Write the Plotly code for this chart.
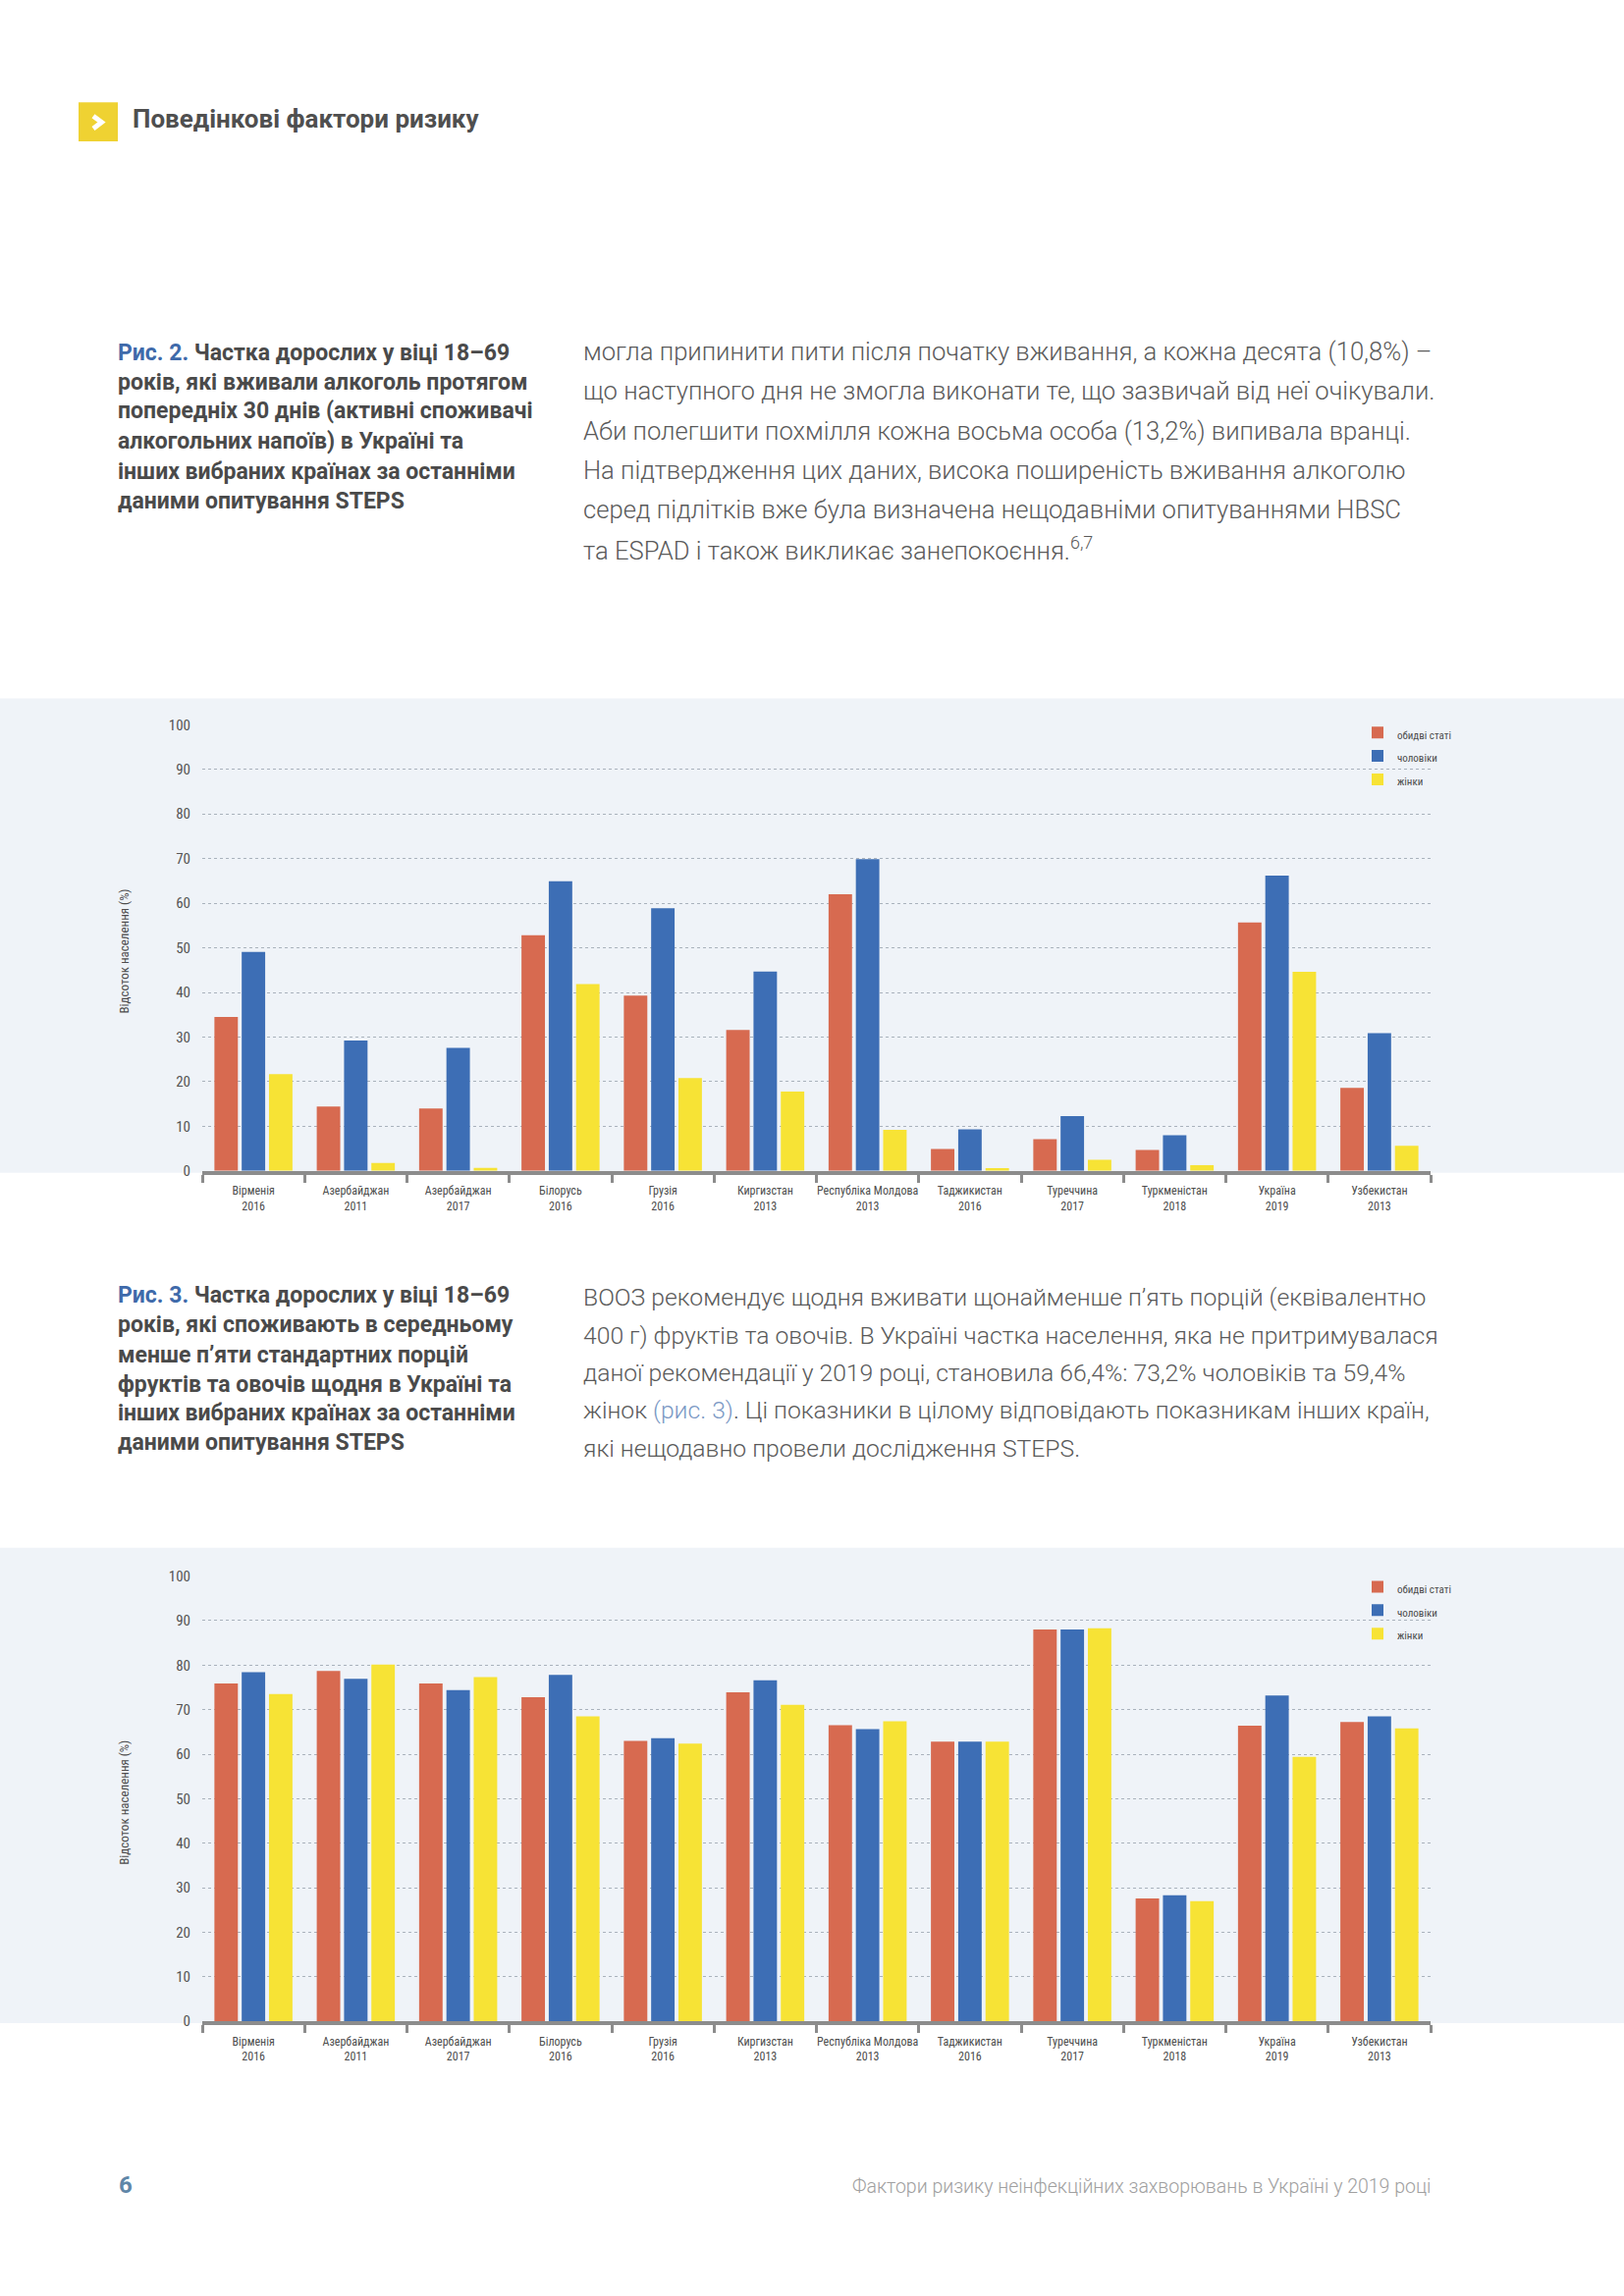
import plotly.graph_objects as go

W, H = 1654, 2339

# ---------------- data ----------------
countries = ["Вірменія", "Азербайджан", "Азербайджан", "Білорусь", "Грузія", "Киргизстан",
             "Республіка Молдова", "Таджикистан", "Туреччина", "Туркменістан", "Україна", "Узбекистан"]
years = ["2016", "2011", "2017", "2016", "2016", "2013", "2013", "2016", "2017", "2018", "2019", "2013"]
categories = [f"{c}<br>{y}" for c, y in zip(countries, years)]

series_names = ["обидві статі", "чоловіки", "жінки"]

# Fig. 2: current alcohol drinkers (%)
alc_both = [34.5, 14.4, 14.0, 52.8, 39.3, 31.6, 62.0, 4.9, 7.1, 4.7, 55.7, 18.6]
alc_men = [49.1, 29.2, 27.6, 64.9, 58.9, 44.7, 69.9, 9.3, 12.3, 8.0, 66.2, 30.9]
alc_women = [21.7, 1.8, 0.7, 41.9, 20.8, 17.8, 9.2, 0.6, 2.5, 1.3, 44.6, 5.6]

# Fig. 3: fewer than 5 servings of fruit & vegetables (%)
fv_both = [75.9, 78.7, 75.9, 72.8, 63.0, 73.9, 66.5, 62.8, 88.0, 27.6, 66.4, 67.2]
fv_men = [78.4, 76.9, 74.4, 77.8, 63.6, 76.6, 65.6, 62.8, 88.0, 28.3, 73.2, 68.5]
fv_women = [73.5, 80.1, 77.3, 68.5, 62.4, 71.1, 67.4, 62.8, 88.3, 27.0, 59.4, 65.8]

y_ticks = list(range(0, 101, 10))
y_title = "Відсоток населення (%)"

colors = ["#D76A50", "#3D6EB5", "#F7E335"]

# ---------------- helpers (page pixels -> paper fractions) ----------------
def px(x):
    return x / W

def py(y):
    return 1 - y / H

NARROW = "Liberation Sans Narrow, Roboto Condensed, DejaVu Sans Condensed, Arial Narrow, Roboto, sans-serif"
BODY = "Roboto, Open Sans, sans-serif"

fig = go.Figure()

for i, (name, vals) in enumerate(zip(series_names, [alc_both, alc_men, alc_women])):
    fig.add_trace(go.Bar(x=categories, y=vals, name=f"<span style='font-size:11px'>{name}</span>",
                         marker=dict(color=colors[i], line=dict(width=0)),
                         xaxis="x", yaxis="y", legend="legend"))
for i, (name, vals) in enumerate(zip(series_names, [fv_both, fv_men, fv_women])):
    fig.add_trace(go.Bar(x=categories, y=vals, name=f"<span style='font-size:11px'>{name}</span>",
                         marker=dict(color=colors[i], line=dict(width=0)),
                         xaxis="x2", yaxis="y2", legend="legend2"))

xdom = [px(206), px(1457)]
ax_common_x = dict(type="category", showline=True, linecolor="#8C8C8C", linewidth=4,
                   ticks="outside", tickson="boundaries", ticklen=8, tickwidth=3,
                   tickcolor="#8C8C8C", showgrid=False, tickangle=0, ticklabelstandoff=6,
                   tickfont=dict(family=NARROW, size=12, color="#4D4D4D"))
ax_common_y = dict(range=[0, 100], tickvals=y_ticks, showgrid=True, gridcolor="#A9B2BC",
                   griddash="dot", gridwidth=1, zeroline=False, showline=False,
                   ticks="outside", ticklen=8, tickcolor="rgba(0,0,0,0)",
                   tickfont=dict(family=NARROW, size=15, color="#555555"))

layout = dict(
    width=W, height=H, autosize=False,
    margin=dict(l=0, r=0, t=0, b=0),
    paper_bgcolor="white", plot_bgcolor="rgba(0,0,0,0)",
    barmode="group", bargap=0.2, bargroupgap=0.14,
    xaxis=dict(domain=xdom, anchor="y", **ax_common_x),
    yaxis=dict(domain=[py(1193), py(735)], anchor="x", **ax_common_y),
    xaxis2=dict(domain=xdom, anchor="y2", **ax_common_x),
    yaxis2=dict(domain=[py(2066), py(1609)], anchor="x2", **ax_common_y),
    legend=dict(x=px(1383), y=py(726), xanchor="left", yanchor="top",
                bgcolor="rgba(0,0,0,0)", font=dict(family=NARROW, size=16, color="#4D4D4D"),
                itemwidth=30, tracegroupgap=0),
    legend2=dict(x=px(1383), y=py(1603), xanchor="left", yanchor="top",
                 bgcolor="rgba(0,0,0,0)", font=dict(family=NARROW, size=16, color="#4D4D4D"),
                 itemwidth=30, tracegroupgap=0),
    showlegend=True,
)
fig.update_layout(**layout)

shapes = [
    # chart background bands
    dict(type="rect", xref="paper", yref="paper", x0=0, x1=1, y0=py(1195), y1=py(708),
         fillcolor="#EFF3F8", line=dict(width=0), layer="below"),
    dict(type="rect", xref="paper", yref="paper", x0=0, x1=1, y0=py(2068), y1=py(1580),
         fillcolor="#EFF3F8", line=dict(width=0), layer="below"),
    # header yellow square + chevron
    dict(type="rect", xref="paper", yref="paper", x0=px(80), x1=px(120), y0=py(136), y1=py(96),
         fillcolor="#EFD232", line=dict(width=0), layer="below"),
    dict(type="path", xref="paper", yref="paper",
         path=f"M {px(95)} {py(110)} L {px(103.5)} {py(116.5)} L {px(95)} {py(123)}",
         line=dict(color="white", width=5)),
]
fig.update_layout(shapes=shapes)

ann = []

def line(text, x, y, size, color, family=BODY, weight=None, xanchor="left"):
    f = dict(family=family, size=size, color=color)
    if weight is not None:
        f["weight"] = weight
    ann.append(dict(text=text, x=px(x), y=py(y), xref="paper", yref="paper",
                    xanchor=xanchor, yanchor="middle", showarrow=False, font=f, align="left"))

# header
line("Поведінкові фактори ризику", 133, 113, 26, "#4F4F4F", weight=700)

BLUE_LBL = "#3F6AAA"
CAP = "#4A4A4A"
BODY_C = "#5A5A5A"

cap2 = [f"<span style='color:{BLUE_LBL}'>Рис. 2.</span> Частка дорослих у віці 18–69",
        "років, які вживали алкоголь протягом",
        "попередніх 30 днів (активні споживачі",
        "алкогольних напоїв) в Україні та",
        "інших вибраних країнах за останніми",
        "даними опитування STEPS"]
for t, y in zip(cap2, [353, 383, 413, 444, 475, 505]):
    line(t, 118, y, 23, CAP, weight=700)

body2 = ["могла припинити пити після початку вживання, а кожна десята (10,8%) –",
         "що наступного дня не змогла виконати те, що зазвичай від неї очікували.",
         "Аби полегшити похмілля кожна восьма особа (13,2%) випивала вранці.",
         "На підтвердження цих даних, висока поширеність вживання алкоголю",
         "серед підлітків вже була визначена нещодавніми опитуваннями HBSC",
         "та ESPAD і також викликає занепокоєння.<sup>6,7</sup>"]
for t, y in zip(body2, [352, 392, 433, 474, 514, 554]):
    line(t, 592, y, 25.6, BODY_C, weight=300)

cap3 = [f"<span style='color:{BLUE_LBL}'>Рис. 3.</span> Частка дорослих у віці 18–69",
        "років, які споживають в середньому",
        "менше п’яти стандартних порцій",
        "фруктів та овочів щодня в Україні та",
        "інших вибраних країнах за останніми",
        "даними опитування STEPS"]
for t, y in zip(cap3, [1321, 1351, 1382, 1412, 1442, 1472]):
    line(t, 118, y, 23, CAP, weight=700)

body3 = ["ВООЗ рекомендує щодня вживати щонайменше п’ять порцій (еквівалентно",
         "400 г) фруктів та овочів. В Україні частка населення, яка не притримувалася",
         "даної рекомендації у 2019 році, становила 66,4%: 73,2% чоловіків та 59,4%",
         "жінок <span style='color:#7A98C4'>(рис. 3)</span>. Ці показники в цілому відповідають показникам інших країн,",
         "які нещодавно провели дослідження STEPS."]
for t, y in zip(body3, [1323, 1362, 1400, 1439, 1478]):
    line(t, 592, y, 24.7, BODY_C, weight=300)

# axis titles
for yc in [967, 1841]:
    ann.append(dict(text=y_title, x=px(127), y=py(yc), xref="paper", yref="paper",
                    xanchor="center", yanchor="middle", textangle=-90, showarrow=False,
                    font=dict(family=NARROW, size=13, color="#4D4D4D")))

# footer
line("6", 119, 2234, 24, "#5F86A8", weight=700)
line("Фактори ризику неінфекційних захворювань в Україні у 2019 році", 1459, 2236, 19.5,
     "#A0A0A0", weight=300, xanchor="right")

fig.update_layout(annotations=ann)

fig.write_html("out.html", config={"displayModeBar": False},
               post_script="document.body.style.margin='0';")
